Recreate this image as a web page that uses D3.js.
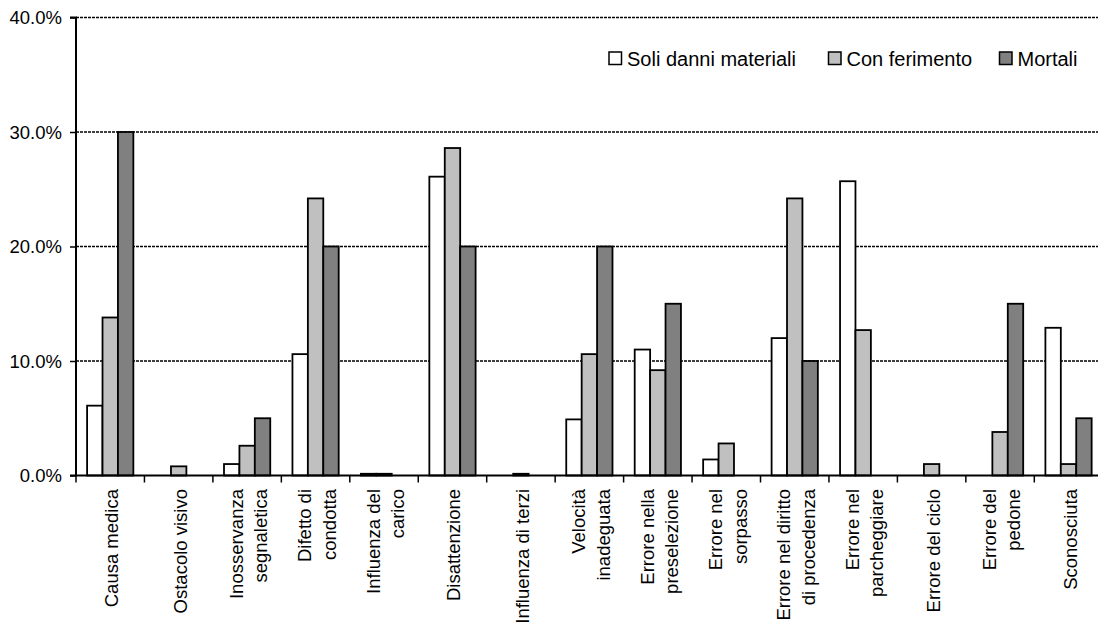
<!DOCTYPE html>
<html><head><meta charset="utf-8">
<script src="https://cdn.jsdelivr.net/npm/d3@7"></script>
<style>
html,body{margin:0;padding:0;background:#fff;overflow:hidden}
text{font-family:"Liberation Sans",Arial,sans-serif;fill:#000}
</style></head>
<body><svg id="c" width="1098" height="624"></svg>
<script>
const categories = [
  ["Causa medica"], ["Ostacolo visivo"], ["Inosservanza","segnaletica"],
  ["Difetto di","condotta"], ["Influenza del","carico"], ["Disattenzione"],
  ["Influenza di terzi"], ["Velocità","inadeguata"], ["Errore nella","preselezione"],
  ["Errore nel","sorpasso"], ["Errore nel diritto","di procedenza"], ["Errore nel","parcheggiare"],
  ["Errore del ciclo"], ["Errore del","pedone"], ["Sconosciuta"]
];
const seriesNames = ["Soli danni materiali","Con ferimento","Mortali"];
const seriesColors = ["#ffffff","#c0c0c0","#808080"];
const soliDanni   = [6.1, 0.0, 1.0, 10.6, 0.15, 26.1, 0.0, 4.9, 11.0, 1.4, 12.0, 25.7, 0.0, 0.0, 12.9];
const conFerimento= [13.8, 0.8, 2.6, 24.2, 0.15, 28.6, 0.15, 10.6, 9.2, 2.8, 24.2, 12.7, 1.0, 3.8, 1.0];
const mortali     = [30.0, 0.0, 5.0, 20.0, 0.0, 20.0, 0.0, 20.0, 15.0, 0.0, 10.0, 0.0, 0.0, 15.0, 5.0];
const yTicks = [0, 10, 20, 30, 40];
const yTickLabels = ["0.0%","10.0%","20.0%","30.0%","40.0%"];

(function(){
const seriesValues = [soliDanni, conFerimento, mortali];
const svg = d3.select("#c");
const L = 76, R = 1102.75, T = 17.5, B = 475.5;
const keys = categories.map((c,i)=>i);
const x0 = d3.scaleBand().domain(keys).range([L,R]).padding(0);
const x1 = d3.scaleBand().domain([0,1,2]).range([0,x0.bandwidth()]).paddingInner(0).paddingOuter(0.72);
const y = d3.scaleLinear().domain([0,40]).range([B,T]);

// gridlines
svg.append("g").selectAll("line").data(yTicks.filter(d=>d>0)).join("line")
  .attr("x1",L).attr("x2",1098).attr("y1",d=>y(d)).attr("y2",d=>y(d))
  .attr("stroke","#000").attr("stroke-width",1.3).attr("stroke-dasharray","3,1");

// bars
const g = svg.append("g");
keys.forEach(i=>{
  seriesValues.forEach((vals,s)=>{
    const v = vals[i];
    if (v<=0) return;
    g.append("rect")
      .attr("x", x0(i)+x1(s)).attr("width", x1.bandwidth())
      .attr("y", y(v)).attr("height", y(0)-y(v))
      .attr("fill", seriesColors[s]).attr("stroke","#000").attr("stroke-width",1.8);
  });
});

// y axis
const yAxis = d3.axisLeft(y).tickValues(yTicks).tickFormat((d,i)=>yTickLabels[i]).tickSize(6).tickPadding(8);
const ya = svg.append("g").attr("transform",`translate(${L},0)`).call(yAxis);
ya.select(".domain").attr("stroke","#000").attr("stroke-width",2).attr("d",`M-6,${T}H0V${B}H-6`);
ya.selectAll(".tick line").attr("stroke","#000").attr("stroke-width",1.5);
ya.selectAll(".tick text").style("font-size","18.5px").style("font-family","Liberation Sans, Arial, sans-serif").attr("fill","#000").attr("dy","0.35em");

// x axis
const xa = svg.append("g").attr("transform",`translate(0,${B})`)
  .call(d3.axisBottom(x0).tickSize(0).tickFormat(""));
xa.select(".domain").attr("stroke","#000").attr("stroke-width",2).attr("d",`M${L},0H1098`);
xa.selectAll(".tick").remove();
const tickPos = d3.range(categories.length+1).map(i=>L+i*x0.step());
xa.selectAll("line.tk").data(tickPos).join("line").attr("class","tk")
  .attr("x1",d=>d).attr("x2",d=>d).attr("y1",0).attr("y2",7)
  .attr("stroke","#000").attr("stroke-width",1.5);

// category labels
keys.forEach(i=>{
  const lines = categories[i];
  const cx = x0(i)+x0.bandwidth()/2;
  const t = svg.append("text")
    .attr("transform",`translate(${cx+1.5},489) rotate(-90)`)
    .attr("text-anchor","end").style("font-size","18.5px");
  lines.forEach((ln,k)=>{
    t.append("tspan").attr("x",0).attr("y",(k-(lines.length-1)/2)*24.5)
      .attr("dominant-baseline","central").text(ln);
  });
});

// legend
const legX = [609, 828.5, 999.5];
const lg = svg.append("g");
seriesNames.forEach((n,s)=>{
  lg.append("rect").attr("x",legX[s]).attr("y",52).attr("width",12.5).attr("height",12.5)
    .attr("fill",seriesColors[s]).attr("stroke","#000").attr("stroke-width",1.5);
  lg.append("text").attr("x",legX[s]+18).attr("y",66).style("font-size","20px").text(n);
});
})();
</script></body></html>
